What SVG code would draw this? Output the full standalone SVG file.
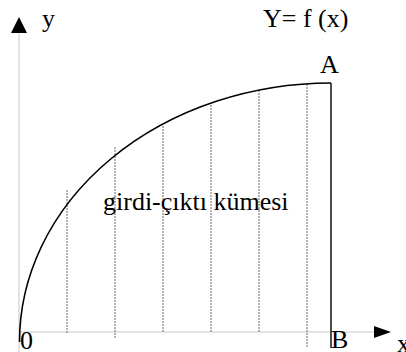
<svg xmlns="http://www.w3.org/2000/svg" width="406" height="352" viewBox="0 0 406 352">
<style>
.axis{stroke:#c8c8c8;stroke-width:1;fill:none}
.dot{stroke:#666;stroke-width:1;stroke-dasharray:2,1;fill:none}
.curve{stroke:#000;stroke-width:1.6;fill:none}
</style>
<rect width="406" height="352" fill="#fff"/>
<g id="connectors">
<line class="axis" x1="19" y1="352" x2="19" y2="30"/>
<line class="axis" x1="19" y1="332" x2="376" y2="332"/>
<polygon points="19,17 11,33 27,33" fill="#000"/>
<polygon points="391,332 374,326 374,338" fill="#000"/>
<line class="dot" x1="67" y1="190" x2="67" y2="333"/>
<line class="dot" x1="115" y1="147" x2="115" y2="339"/>
<line class="dot" x1="163" y1="126" x2="163" y2="333"/>
<line class="dot" x1="211" y1="105" x2="211" y2="333"/>
<line class="dot" x1="259" y1="90" x2="259" y2="333"/>
<line class="dot" x1="307" y1="84" x2="307" y2="348"/>
<path class="curve" d="M19.5,342 A312,259 0 0 1 331,83"/>
<line x1="331" y1="83" x2="331" y2="348" stroke="#000" stroke-width="1.4"/>
</g>
<g id="labels" style="font-family:'Times New Roman','Liberation Serif','DejaVu Serif',serif;font-size:26px" fill="#000">
<text x="42" y="27">y</text>
<text x="263" y="27">Y= f (x)</text>
<text x="320" y="73">A</text>
<text x="20" y="349">0</text>
<text x="331" y="348">B</text>
<text x="397" y="352">x</text>
<text x="103" y="210">girdi-çıktı kümesi</text>
</g>
</svg>
